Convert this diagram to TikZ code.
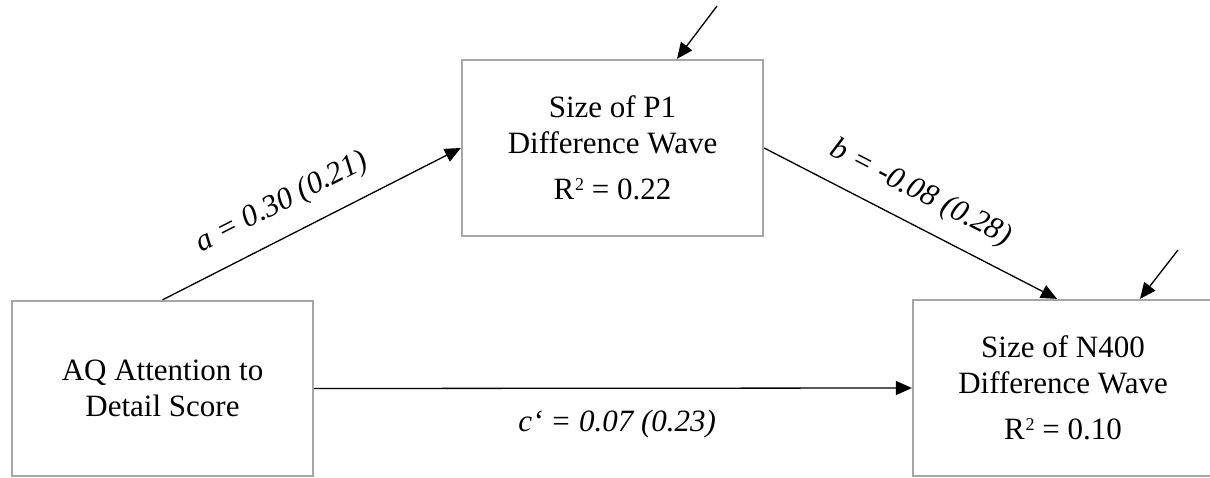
\documentclass[tikz,border=0pt]{standalone}
\usepackage{fontspec}
\setmainfont{Liberation Serif}
\usetikzlibrary{arrows.meta}
\definecolor{boxgray}{RGB}{166,166,166}
\newcommand{\rsq}{R\kern1pt\raisebox{9.5pt}{\fontsize{18}{18}\selectfont 2}}
\begin{document}
\begin{tikzpicture}[x=1pt,y=-1pt,
  box/.style={draw=boxgray, line width=2.3pt, minimum width=301pt, minimum height=176pt,
    align=center, inner sep=0pt, font=\fontsize{31}{36}\selectfont},
  arr/.style={line width=1.3pt, -{Triangle[length=16pt,width=14pt]}},
  lab/.style={font=\fontsize{31}{36}\selectfont\itshape, inner sep=0pt}]
\useasboundingbox (0,0) rectangle (1210,477);
\node[box] (P1) at (612.5,148) {Size of P1\\Difference Wave\\[10pt]\rsq{} = 0.22};
\node[box, minimum height=175pt] (AQ) at (162.5,388.5) {AQ Attention to\\Detail Score};
\node[box, minimum width=300pt] (N400) at (1063,388) {Size of N400\\Difference Wave\\[10pt]\rsq{} = 0.10};
\coordinate (e1) at (717,6);
\coordinate (e2) at (1178,250);
\draw[arr] (AQ.north) -- node[lab, sloped, pos=0.45, above=17.5pt] {a = 0.30 (0.21)} (P1.west);
\draw[arr] (P1.east) -- node[lab, sloped, pos=0.486, above=16.5pt] {b = -0.08 (0.28)} ([xshift=-6pt]N400.north);
\draw[arr] (AQ.east) -- node[lab, pos=0.507, below=21pt] {c‘ = 0.07 (0.23)} (N400.west);
\draw[arr] (e1) -- ([xshift=64.5pt]P1.north);
\draw[arr] (e2) -- ([xshift=77pt]N400.north);
\end{tikzpicture}
\end{document}
